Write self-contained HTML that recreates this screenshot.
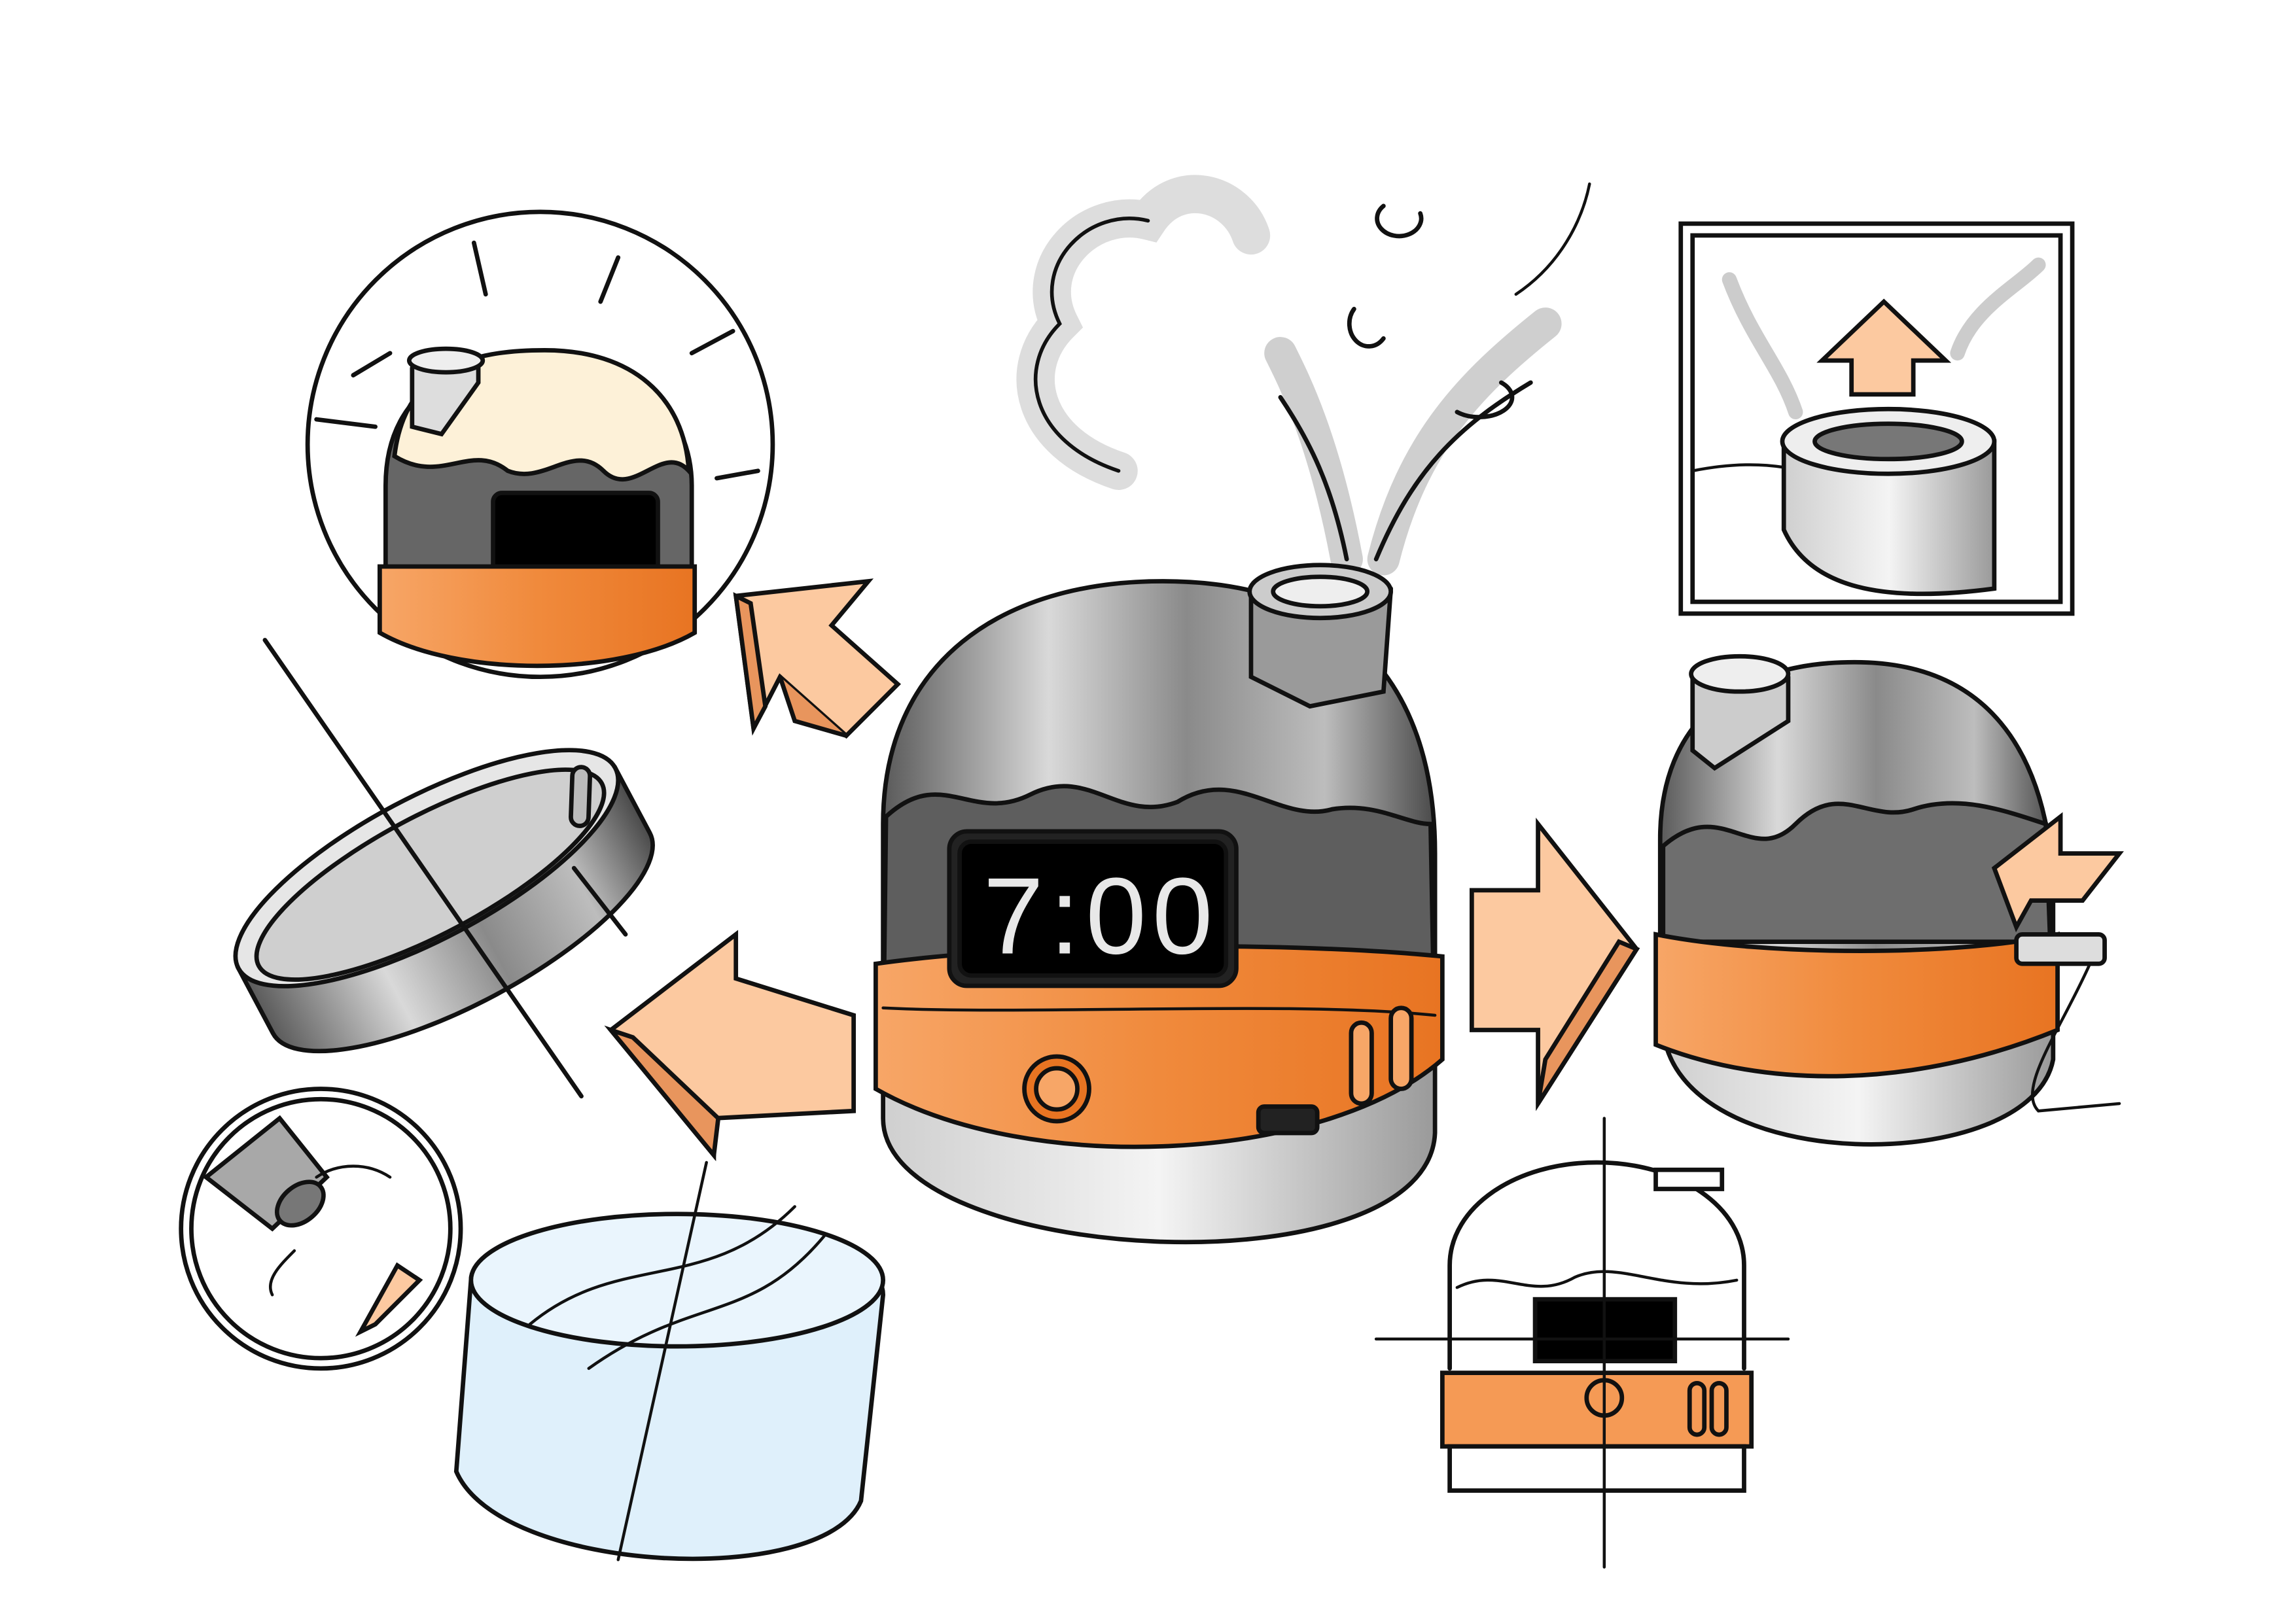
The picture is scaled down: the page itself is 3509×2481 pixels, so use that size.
<!DOCTYPE html>
<html><head><meta charset="utf-8"><style>
html,body{margin:0;padding:0;background:#fff}
svg{display:block}
</style></head><body>
<svg width="3509" height="2481" viewBox="0 0 1560 1103" xmlns="http://www.w3.org/2000/svg">
<defs>
<linearGradient id="metal" x1="0" x2="1" y1="0" y2="0">
<stop offset="0" stop-color="#5a5a5a"/><stop offset="0.3" stop-color="#d9d9d9"/><stop offset="0.55" stop-color="#8a8a8a"/><stop offset="0.8" stop-color="#bdbdbd"/><stop offset="1" stop-color="#4a4a4a"/></linearGradient>
<linearGradient id="orange" x1="0" x2="1"><stop offset="0" stop-color="#f7a667"/><stop offset="0.5" stop-color="#f08a3c"/><stop offset="1" stop-color="#e87422"/></linearGradient>
<linearGradient id="glass" x1="0" x2="1"><stop offset="0" stop-color="#cfcfcf"/><stop offset="0.5" stop-color="#f4f4f4"/><stop offset="1" stop-color="#9a9a9a"/></linearGradient>
</defs>
<rect width="1560" height="1103" fill="#fff"/>
<g fill="none" stroke="#111" stroke-width="3" stroke-linecap="round">
<!-- steam -->
<path d="M915 380 C900 300 880 260 870 240 M940 380 C960 300 1000 260 1050 220" stroke="#cfcfcf" stroke-width="22"/>
<path d="M760 320 C700 300 690 250 720 220 C700 180 740 140 780 150 C800 120 840 130 850 160" stroke="#ddd" stroke-width="26"/>
<path d="M760 320 C700 300 690 250 720 220 C700 180 740 140 780 150" stroke-width="2.5"/>
<path d="M915 380 C905 330 890 300 870 270 M935 380 C960 320 990 290 1040 260"/>
<path d="M940 140 a15 12 0 1 0 25 5 M920 210 a12 14 0 1 0 20 20 M990 280 a20 12 0 0 0 30 -20"/>
<path d="M1030 200 C1060 180 1075 150 1080 125" stroke-width="2"/>
<!-- top-left circle -->
<circle cx="367" cy="302" r="158" fill="#fff"/>
<path d="M262 400 L262 330 C262 260 320 240 370 240 C430 240 470 280 470 330 L470 400 Z" fill="#666"/>
<path d="M268 310 C275 250 320 238 370 238 C430 238 465 270 468 320 C450 300 430 340 410 320 C390 300 370 330 345 320 C320 300 300 330 268 310 Z" fill="#fdf1d8"/>
<path d="M280 250 L280 290 L300 295 L325 260 L325 245" fill="#ddd"/>
<ellipse cx="303" cy="245" rx="25" ry="8" fill="#eee"/>
<rect x="335" y="335" width="112" height="60" rx="6" fill="#000"/>
<path d="M258 385 L472 385 L472 430 C420 460 310 460 258 430 Z" fill="url(#orange)"/>
<path d="M322 165 L330 200 M420 175 L408 205 M470 240 L498 225 M487 325 L515 320 M255 290 L215 285 M240 255 L265 240"/>
<!-- arrow top-left -->
<path d="M500 405 L590 395 L565 425 L610 465 L575 500 L530 460 L512 495 Z" fill="#fcc9a0"/>
<path d="M512 495 L500 405 L510 410 L520 480 Z M575 500 L540 490 L530 460" fill="#e8955d"/>
<!-- ring (short cylinder) -->
<g transform="rotate(-28 290 590)">
<path d="M145 590 L145 640 A145 48 0 0 0 435 640 L435 590 Z" fill="url(#metal)"/>
<ellipse cx="290" cy="590" rx="145" ry="48" fill="#e6e6e6"/>
<ellipse cx="290" cy="595" rx="132" ry="40" fill="#cfcfcf"/>
<rect x="385" y="590" width="40" height="12" rx="6" fill="#bbb" transform="rotate(-60 405 596)"/>
</g>
<path d="M180 435 L395 745 M390 590 L425 635"/>
<!-- small circle -->
<circle cx="218" cy="835" r="95" fill="#fff"/>
<circle cx="218" cy="835" r="88"/>
<path d="M140 800 L190 760 L222 800 L185 835 Z" fill="#a8a8a8"/>
<ellipse cx="204" cy="818" rx="18" ry="12" transform="rotate(-40 204 818)" fill="#777"/>
<path d="M215 800 C230 790 250 790 265 800 M200 850 C190 860 180 870 185 880" stroke-width="2"/>
<path d="M245 905 L270 860 L285 870 L255 900 Z" fill="#fcc9a0"/>
<!-- water bowl -->
<path d="M320 870 C320 820 600 820 600 880 L585 1020 C560 1080 340 1070 310 1000 Z" fill="#dff0fb"/>
<ellipse cx="460" cy="870" rx="140" ry="45" fill="#eaf5fd"/>
<path d="M360 900 C420 850 480 880 540 820 M400 930 C470 880 510 900 560 840 M480 790 L420 1060" stroke-width="2"/>
<!-- left arrow -->
<path d="M580 690 L580 755 L485 760 L485 785 L415 700 L500 635 L500 665 Z" fill="#fcc9a0"/>
<path d="M415 700 L485 785 L488 760 L430 705 Z" fill="#e8955d"/>
<!-- center product -->
<path d="M600 700 L600 560 C600 450 680 395 790 395 C910 395 975 460 975 580 L975 700 Z" fill="url(#metal)"/>
<path d="M602 555 C640 520 660 560 700 540 C740 520 760 560 800 545 C840 520 870 560 905 550 C935 545 955 560 972 560 L975 720 L600 720 Z" fill="#5e5e5e"/>
<path d="M850 400 L850 460 L890 480 L940 470 L945 400" fill="#9a9a9a"/>
<ellipse cx="897" cy="402" rx="48" ry="18" fill="#ccc"/>
<ellipse cx="897" cy="402" rx="32" ry="10" fill="#eee"/>
<path d="M600 760 C600 860 970 880 975 770 L975 700 L600 700 Z" fill="url(#glass)"/>
<path d="M595 655 C700 640 880 640 980 650 L980 720 C900 790 700 800 595 740 Z" fill="url(#orange)"/>
<path d="M600 685 C700 690 880 680 975 690" stroke-width="2"/>
<circle cx="718" cy="740" r="22" fill="#e87422"/>
<circle cx="718" cy="740" r="14" fill="#f7a667"/>
<rect x="918" y="695" width="14" height="55" rx="7" fill="#f7a667"/>
<rect x="945" y="685" width="14" height="55" rx="7" fill="#f7a667"/>
<rect x="855" y="752" width="40" height="18" rx="4" fill="#222"/>
<rect x="645" y="565" width="195" height="105" rx="12" fill="#222"/>
<rect x="652" y="572" width="181" height="91" rx="8" fill="#000"/>
</g>
<text x="748" y="648" text-anchor="middle" font-family="Liberation Sans Narrow, Liberation Sans, sans-serif" font-size="74" fill="#e8e8e8" letter-spacing="4" transform="translate(0,0)">7:00</text>
<g fill="none" stroke="#111" stroke-width="3" stroke-linecap="round">
<!-- right arrow -->
<path d="M1000 605 L1045 605 L1045 560 L1112 645 L1045 750 L1045 700 L1000 700 Z" fill="#fcc9a0"/>
<path d="M1045 750 L1112 645 L1100 640 L1050 720 Z" fill="#e8955d"/>
<!-- top-right box -->
<rect x="1142" y="152" width="266" height="265" fill="#fff"/>
<rect x="1150" y="160" width="250" height="249"/>
<path d="M1150 320 C1200 310 1230 320 1250 330" stroke-width="2"/>
<path d="M1212 300 L1212 360 C1230 400 1280 410 1355 400 L1355 300 Z" fill="url(#glass)"/>
<ellipse cx="1283" cy="300" rx="72" ry="22" fill="#eee"/>
<ellipse cx="1283" cy="300" rx="50" ry="12" fill="#777"/>
<path d="M1238 245 L1280 205 L1322 245 L1300 245 L1300 268 L1258 268 L1258 245 Z" fill="#fcc9a0"/>
<path d="M1175 190 C1190 230 1210 250 1220 280 M1330 240 C1340 210 1370 195 1385 180" stroke="#ccc" stroke-width="10"/>
<!-- right product -->
<path d="M1128 650 L1128 570 C1128 490 1180 450 1260 450 C1350 450 1390 510 1395 600 L1395 650 Z" fill="url(#metal)"/>
<path d="M1130 575 C1170 540 1190 590 1220 560 C1250 530 1270 560 1300 550 C1330 540 1360 550 1390 560 L1393 640 L1130 640 Z" fill="#6e6e6e"/>
<path d="M1150 460 L1150 510 L1165 522 L1215 490 L1215 460" fill="#ccc"/>
<ellipse cx="1182" cy="458" rx="33" ry="12" fill="#eee"/>
<path d="M1130 700 C1140 800 1380 800 1395 720 L1395 690 L1130 690 Z" fill="url(#glass)"/>
<path d="M1125 635 C1200 650 1330 650 1398 635 L1398 700 C1300 740 1200 740 1125 710 Z" fill="url(#orange)"/>
<path d="M1355 590 L1400 555 L1400 580 L1440 580 L1415 612 L1380 612 L1370 630 Z" fill="#fcc9a0"/>
<rect x="1370" y="635" width="60" height="20" rx="4" fill="#ddd"/>
<path d="M1420 655 C1400 700 1370 740 1385 755 L1440 750" stroke-width="2"/>
<!-- orthographic -->
<path d="M985 930 L985 860 C985 820 1030 790 1085 790 C1140 790 1185 820 1185 860 L1185 930" fill="#fff"/>
<path d="M1125 795 L1125 808 L1170 808 L1170 795 Z" fill="#fff"/>
<path d="M990 875 C1020 860 1040 885 1070 868 C1100 855 1130 880 1180 870" stroke-width="2"/>
<rect x="1043" y="883" width="95" height="42" fill="#000"/>
<rect x="980" y="933" width="210" height="50" fill="#f59a55"/>
<circle cx="1090" cy="950" r="12"/>
<rect x="1148" y="940" width="10" height="35" rx="5"/>
<rect x="1163" y="940" width="10" height="35" rx="5"/>
<rect x="985" y="983" width="200" height="30" fill="#fff"/>
<path d="M935 910 L1215 910 M1090 760 L1090 1065" stroke-width="2"/>
</g>
</svg>
</body></html>
